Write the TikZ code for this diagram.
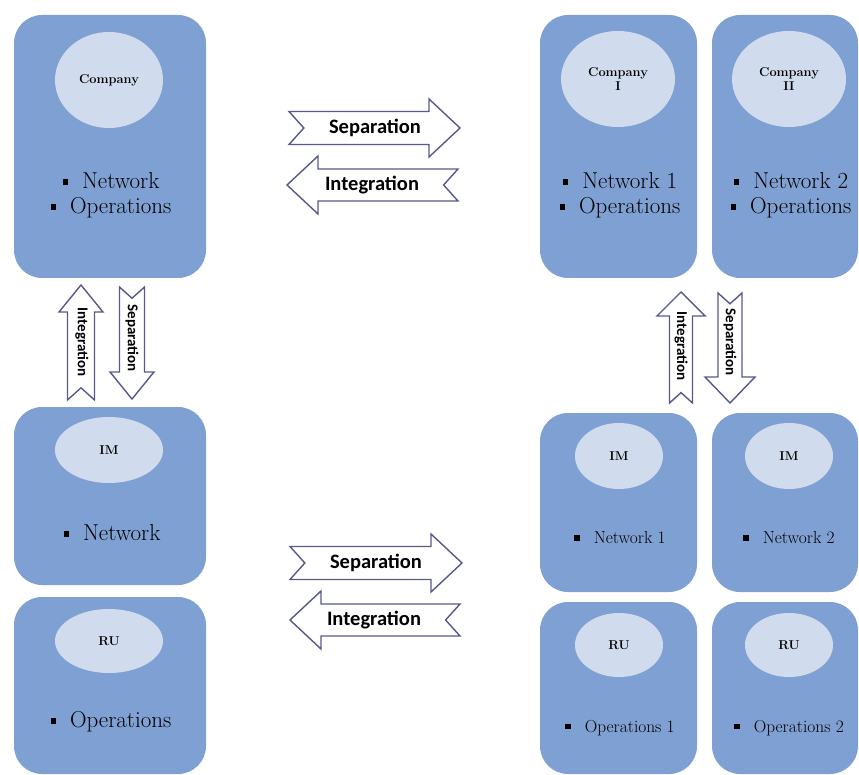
\documentclass[tikz,border=0pt]{standalone}
\usepackage{fontspec}
\newfontfamily\arrowfont{Carlito}
\definecolor{boxblue}{RGB}{127,160,210}
\definecolor{ovalblue}{RGB}{208,220,238}
\definecolor{arrowedge}{RGB}{88,88,140}
\newcommand{\sqb}{\rule[0.18em]{5.5pt}{5.5pt}\hspace{14pt}}
\tikzset{
  box/.style={fill=boxblue,rounded corners=28pt,inner sep=0pt},
  oval/.style={ellipse,fill=ovalblue,inner sep=0pt,font=\fontsize{12.8}{14}\selectfont\bfseries,align=center},
  biglist/.style={align=center,font=\fontsize{23}{25}\selectfont},
  smalllist/.style={align=center,font=\fontsize{17.4}{19}\selectfont},
  arrowline/.style={draw=arrowedge,fill=white,line width=1.4pt,line join=miter},
  arrowtext/.style={font=\arrowfont\bfseries\fontsize{20.5}{22}\selectfont},
  vtext/.style={font=\arrowfont\bfseries\fontsize{15}{17}\selectfont,rotate=-90},
  pics/blockarrow/.style n args={4}{code={
    \path[arrowline] (-#1,-#2) -- (#1-#4,-#2) -- (#1-#4,-#3) -- (#1,0)
      -- (#1-#4,#3) -- (#1-#4,#2) -- (-#1,#2) -- (-#1+0.9*#2,0) -- cycle;
  }}
}
\usetikzlibrary{shapes.geometric}
\begin{document}
\begin{tikzpicture}[x=1pt,y=-1pt]
\useasboundingbox (0,0) rectangle (859,775);
% left column: one company
\node[box,minimum width=192pt,minimum height=263pt] (co) at (110,146.5) {};
\node[oval,minimum width=108pt,minimum height=96pt] (coE) at (109,80) {Company};
\node[biglist] (coT) at (111,195.5) {\sqb Network\\\sqb Operations};
\node[box,minimum width=192pt,minimum height=178pt] (im) at (110,496) {};
\node[oval,minimum width=108pt,minimum height=66pt] (imE) at (109,450) {IM};
\node[biglist] (imT) at (112,533) {\sqb Network};
\node[box,minimum width=192pt,minimum height=177pt] (ru) at (110,685.5) {};
\node[oval,minimum width=108pt,minimum height=64pt] (ruE) at (109,641) {RU};
\node[biglist] (ruT) at (111,722) {\sqb Operations};
% right column: two companies
\node[box,minimum width=157pt,minimum height=263pt] (cI) at (618.5,146.5) {};
\node[oval,minimum width=114pt,minimum height=96pt] (cIE) at (618,79) {Company\\I};
\node[biglist] (cIT) at (620,195.5) {\sqb Network 1\\\sqb Operations};
\node[box,minimum width=146pt,minimum height=263pt] (cII) at (785,146.5) {};
\node[oval,minimum width=114pt,minimum height=96pt] (cIIE) at (789,79) {Company\\II};
\node[biglist] (cIIT) at (791,195.5) {\sqb Network 2\\\sqb Operations};
\node[box,minimum width=157pt,minimum height=179pt] (imI) at (618.5,502.5) {};
\node[oval,minimum width=88pt,minimum height=66pt] (imIE) at (619,456) {IM};
\node[smalllist] (imIT) at (620,538) {\sqb Network 1};
\node[box,minimum width=146pt,minimum height=179pt] (imII) at (785,502.5) {};
\node[oval,minimum width=88pt,minimum height=66pt] (imIIE) at (789,456) {IM};
\node[smalllist] (imIIT) at (789,538) {\sqb Network 2};
\node[box,minimum width=157pt,minimum height=172pt] (ruI) at (618.5,688) {};
\node[oval,minimum width=88pt,minimum height=64pt] (ruIE) at (619,645) {RU};
\node[smalllist] (ruIT) at (620,728) {\sqb Operations 1};
\node[box,minimum width=146pt,minimum height=172pt] (ruII) at (785,688) {};
\node[oval,minimum width=88pt,minimum height=64pt] (ruIIE) at (789,645) {RU};
\node[smalllist] (ruIIT) at (789,728) {\sqb Operations 2};
% block arrows
\pic (sepA) at (374.5,128) {blockarrow={85.5}{16.5}{29}{31}};
\node[arrowtext] (sepAT) at (375,128) {Separation};
\pic[rotate=180] (intA) at (372.5,185) {blockarrow={85.5}{16}{29}{31}};
\node[arrowtext] (intAT) at (372,185) {Integration};
\pic (sepB) at (376,563) {blockarrow={86}{16.5}{29}{31}};
\node[arrowtext] (sepBT) at (376,563) {Separation};
\pic[rotate=180] (intB) at (375,620) {blockarrow={85}{16}{29}{31}};
\node[arrowtext] (intBT) at (374,620) {Integration};
\pic[rotate=90] (intL) at (81,342.5) {blockarrow={57.5}{13.5}{22}{27}};
\node[vtext] (intLT) at (82,342) {Integration};
\pic[rotate=-90] (sepL) at (132,343) {blockarrow={56}{12.5}{22}{27}};
\node[vtext] (sepLT) at (132,338) {Separation};
\pic[rotate=90] (intR) at (681,347.5) {blockarrow={55.5}{11.5}{24}{24}};
\node[vtext] (intRT) at (681,346) {Integration};
\pic[rotate=-90] (sepR) at (730,348) {blockarrow={55}{12}{25}{26}};
\node[vtext] (sepRT) at (730,342) {Separation};
\end{tikzpicture}
\end{document}
